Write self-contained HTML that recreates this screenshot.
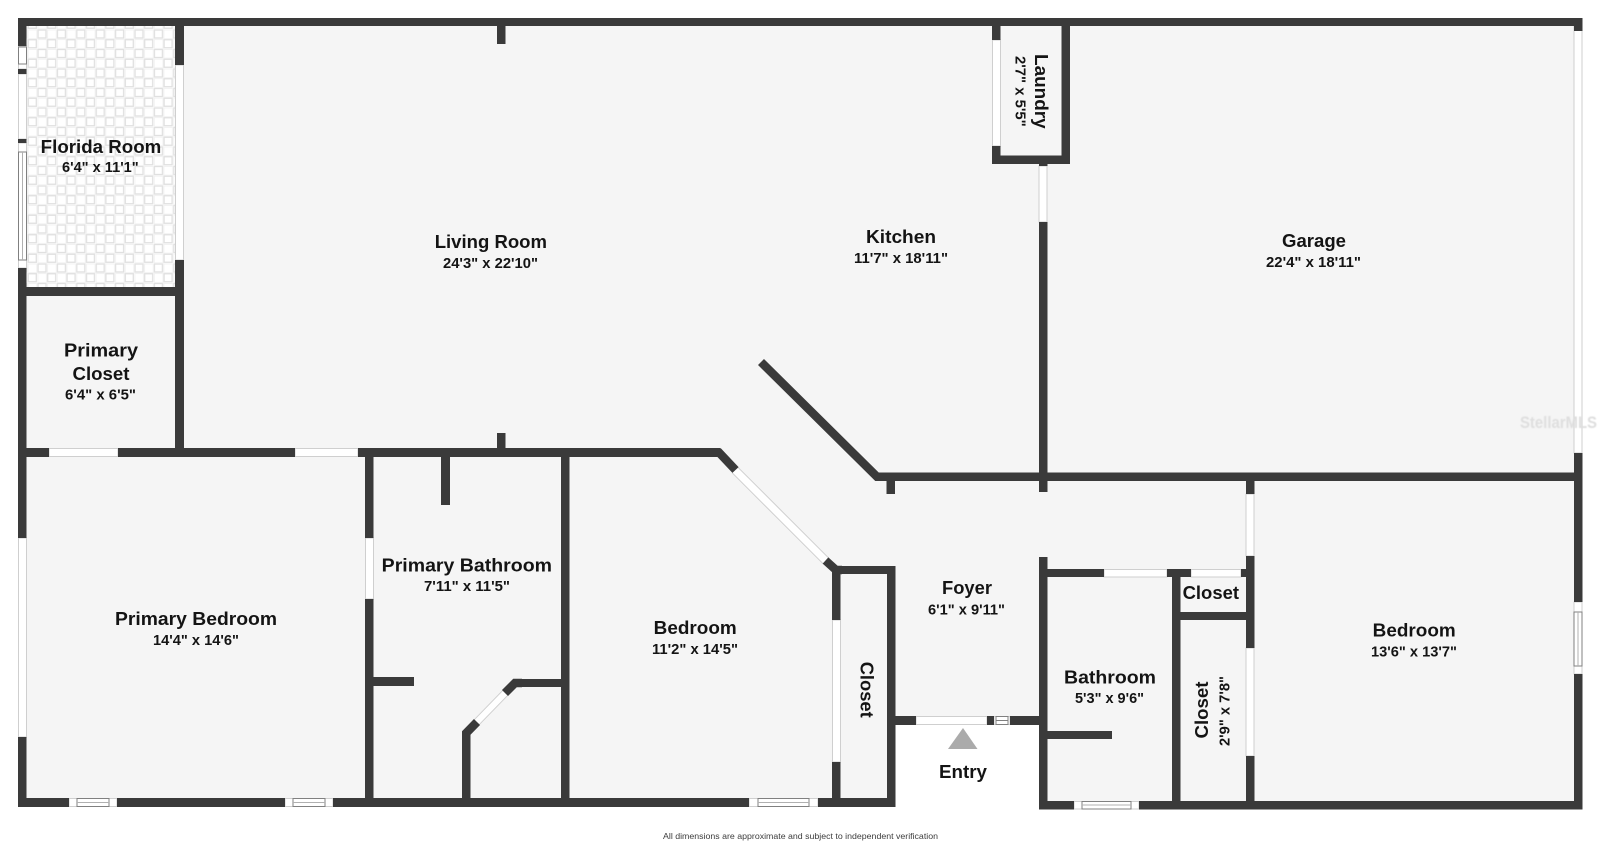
<!DOCTYPE html>
<html lang="en">
<head>
<meta charset="utf-8">
<title>Floor plan</title>
<style>
html,body{margin:0;padding:0;background:#fff;width:1600px;height:845px;overflow:hidden}
svg{display:block}
text{font-family:"Liberation Sans",sans-serif;font-weight:700;fill:#141414;text-anchor:start}
.t{font-size:18.5px}
.d{font-size:15px}
.o{fill:#fff;stroke:#cfcfcf;stroke-width:1}
.w{fill:#3a3a3a}
.i{fill:#fff;stroke:#808080;stroke-width:1}
</style>
</head>
<body>
<svg width="1600" height="845" viewBox="0 0 1600 845" xmlns="http://www.w3.org/2000/svg">
<defs>
<pattern id="tile" patternUnits="userSpaceOnUse" width="19.4" height="19.5" patternTransform="translate(37.5 29.5)">
<rect width="19.4" height="19.5" fill="#fff"/>
<rect x="10" y="0.4" width="8.8" height="8.8" fill="none" stroke="#f1f1f1" stroke-width="1"/>
<rect x="0.3" y="10.1" width="8.8" height="8.8" fill="none" stroke="#f1f1f1" stroke-width="1"/>
<rect x="0.5" y="0.5" width="8" height="8" fill="none" stroke="#e0e0e0" stroke-width="1.3"/>
<rect x="10.2" y="10.25" width="8" height="8" fill="none" stroke="#e0e0e0" stroke-width="1.3"/>
</pattern>
</defs>

<!-- floors -->
<polygon points="18,18 1582,18 1582,809 1039,809 1039,725 895,725 895,807 18,807" fill="#f5f5f5"/>
<rect x="26" y="26" width="149" height="261" fill="url(#tile)"/>

<!-- openings: doors -->
<rect class="o" x="175.5" y="65" width="8" height="195"/>
<rect class="o" x="18.5" y="74" width="8" height="65"/>
<rect class="o" x="18.5" y="538" width="8" height="199"/>
<rect class="o" x="49" y="448.5" width="69" height="8"/>
<rect class="o" x="295" y="448.5" width="63" height="8"/>
<rect class="o" x="365.5" y="538" width="8" height="61"/>
<rect class="o" x="832.5" y="620" width="8" height="142"/>
<rect class="o" x="916" y="716.5" width="71" height="8"/>
<rect class="o" x="1104" y="569.5" width="63" height="7.5"/>
<rect class="o" x="1191" y="569.5" width="50" height="7.5"/>
<rect class="o" x="1246" y="494" width="8" height="62"/>
<rect class="o" x="1246" y="648" width="8" height="108"/>
<rect class="o" x="992.5" y="40" width="8" height="106"/>
<rect class="o" x="1039" y="166" width="8" height="56"/>
<rect class="o" x="1574" y="26" width="8" height="427"/>
<line x1="735" y1="470" x2="826" y2="561" stroke="#cfcfcf" stroke-width="9"/>
<line x1="735" y1="470" x2="826" y2="561" stroke="#fff" stroke-width="7"/>
<line x1="510" y1="688" x2="474" y2="725" stroke="#cfcfcf" stroke-width="8"/>
<line x1="510" y1="688" x2="474" y2="725" stroke="#fff" stroke-width="6"/>

<!-- openings: windows -->
<rect class="o" x="18.5" y="46" width="8" height="23"/>
<rect class="i" x="18.5" y="47" width="8" height="17"/>
<rect class="o" x="18.5" y="143" width="8" height="125"/>
<rect class="i" x="18.5" y="152" width="8" height="108"/>
<line x1="22.5" y1="152" x2="22.5" y2="260" stroke="#b0b0b0"/>
<rect class="o" x="69" y="798.5" width="48" height="8"/>
<rect class="i" x="77" y="798.5" width="32" height="8"/>
<line x1="77" y1="802.5" x2="109" y2="802.5" stroke="#b0b0b0"/>
<rect class="o" x="285" y="798.5" width="48" height="8"/>
<rect class="i" x="293" y="798.5" width="32" height="8"/>
<line x1="293" y1="802.5" x2="325" y2="802.5" stroke="#b0b0b0"/>
<rect class="o" x="749" y="798.5" width="69" height="8"/>
<rect class="i" x="758" y="798.5" width="51" height="8"/>
<line x1="758" y1="802.5" x2="809" y2="802.5" stroke="#b0b0b0"/>
<rect class="o" x="994" y="716.5" width="16" height="8"/>
<rect class="i" x="996" y="716.5" width="12" height="8"/>
<line x1="996" y1="720.5" x2="1008" y2="720.5" stroke="#808080"/>
<rect class="o" x="1074" y="801.5" width="65" height="7.5"/>
<rect class="i" x="1082" y="801.5" width="49" height="7.5"/>
<line x1="1082" y1="805" x2="1131" y2="805" stroke="#b0b0b0"/>
<rect class="o" x="1574" y="602" width="8" height="72"/>
<rect class="i" x="1574" y="612" width="8" height="54"/>
<line x1="1578" y1="612" x2="1578" y2="666" stroke="#b0b0b0"/>

<!-- walls -->
<g class="w">
<rect class="w" x="18" y="18" width="1564.5" height="8"/>
<rect class="w" x="1574" y="18" width="8.5" height="13"/>
<rect class="w" x="18" y="18" width="8.5" height="28"/>
<rect class="w" x="18" y="69" width="8.5" height="5"/>
<rect class="w" x="18" y="139" width="8.5" height="4"/>
<rect class="w" x="18" y="268" width="8.5" height="270"/>
<rect class="w" x="18" y="737" width="8.5" height="70"/>
<rect class="w" x="18" y="798" width="51" height="9"/>
<rect class="w" x="117" y="798" width="168" height="9"/>
<rect class="w" x="333" y="798" width="416" height="9"/>
<rect class="w" x="818" y="798" width="77" height="9"/>
<rect class="w" x="1039" y="801" width="35" height="8.5"/>
<rect class="w" x="1139" y="801" width="443.5" height="8.5"/>
<rect class="w" x="1574" y="453" width="8.5" height="149"/>
<rect class="w" x="1574" y="674" width="8.5" height="135"/>
<rect class="w" x="175" y="18" width="9" height="47"/>
<rect class="w" x="175" y="260" width="9" height="197"/>
<rect class="w" x="18" y="287" width="166" height="9"/>
<rect class="w" x="497" y="26" width="8.5" height="18"/>
<rect class="w" x="18" y="448" width="31" height="9"/>
<rect class="w" x="118" y="448" width="177" height="9"/>
<rect class="w" x="358" y="448" width="362" height="9"/>
<rect class="w" x="497" y="433" width="8.5" height="15"/>
<rect class="w" x="365" y="457" width="8.5" height="81"/>
<rect class="w" x="365" y="599" width="8.5" height="199"/>
<rect class="w" x="373" y="677" width="41" height="9"/>
<rect class="w" x="441" y="457" width="9" height="48"/>
<rect class="w" x="561" y="457" width="8.5" height="341"/>
<rect class="w" x="516" y="679" width="45" height="8"/>
<rect class="w" x="462" y="733" width="8.5" height="65"/>
<rect class="w" x="832" y="566" width="63" height="8"/>
<rect class="w" x="832" y="566" width="8.5" height="54"/>
<rect class="w" x="832" y="762" width="8.5" height="36"/>
<rect class="w" x="887" y="566" width="8.5" height="241"/>
<rect class="w" x="895" y="716" width="21" height="9"/>
<rect class="w" x="987" y="716" width="7" height="9"/>
<rect class="w" x="1010" y="716" width="29" height="9"/>
<rect class="w" x="1039" y="557" width="8.5" height="252"/>
<rect class="w" x="1047" y="569" width="57" height="8"/>
<rect class="w" x="1167" y="569" width="24" height="8"/>
<rect class="w" x="1241" y="569" width="5" height="8"/>
<rect class="w" x="1172" y="569" width="8.5" height="232"/>
<rect class="w" x="1172" y="612" width="74" height="8"/>
<rect class="w" x="1047" y="731" width="65" height="8"/>
<rect class="w" x="1246" y="556" width="8.5" height="92"/>
<rect class="w" x="1246" y="756" width="8.5" height="45"/>
<rect class="w" x="877" y="472.5" width="705" height="8.5"/>
<rect class="w" x="1039" y="222" width="8.5" height="270"/>
<rect class="w" x="886.5" y="481" width="8.5" height="13"/>
<rect class="w" x="1246" y="481" width="8.5" height="13"/>
<rect class="w" x="992" y="18" width="8.5" height="22"/>
<rect class="w" x="992" y="146" width="8.5" height="18"/>
<rect class="w" x="1061.5" y="18" width="8.5" height="146"/>
<rect class="w" x="992" y="155.5" width="78" height="8.5"/>
<rect class="w" x="1039" y="164" width="8.5" height="2"/>
</g>
<!-- diagonal walls -->
<g stroke="#3a3a3a" stroke-width="8.5" fill="none" stroke-linejoin="miter">
<polyline points="761,362 877,476.75 882,476.75"/>
<polyline points="715,452.5 719,452.5 735.5,470"/>
<polyline points="825.5,560.5 836,570 842,570"/>
<polyline points="522,683 515,683 505,693"/>
<polyline points="466.25,742 466.25,733 477,722"/>
</g>

<!-- entry triangle -->
<polygon points="963,728 948,749 977.5,749" fill="#ababab"/>

<!-- labels -->
<text class="t" x="40.7" y="153" textLength="120.6" lengthAdjust="spacingAndGlyphs">Florida Room</text>
<text class="d" x="62" y="172" textLength="76.7" lengthAdjust="spacingAndGlyphs">6'4" x 11'1"</text>

<text class="t" x="434.7" y="248" textLength="112.3" lengthAdjust="spacingAndGlyphs">Living Room</text>
<text class="d" x="443" y="268" textLength="95" lengthAdjust="spacingAndGlyphs">24'3" x 22'10"</text>

<text class="t" x="866" y="243" textLength="70" lengthAdjust="spacingAndGlyphs">Kitchen</text>
<text class="d" x="854" y="263" textLength="94" lengthAdjust="spacingAndGlyphs">11'7" x 18'11"</text>

<text class="t" x="1282" y="247" textLength="64" lengthAdjust="spacingAndGlyphs">Garage</text>
<text class="d" x="1266" y="267" textLength="95" lengthAdjust="spacingAndGlyphs">22'4" x 18'11"</text>

<text class="t" x="64" y="356.5" textLength="74" lengthAdjust="spacingAndGlyphs">Primary</text>
<text class="t" x="72.5" y="380" textLength="57" lengthAdjust="spacingAndGlyphs">Closet</text>
<text class="d" x="65" y="399.5" textLength="71" lengthAdjust="spacingAndGlyphs">6'4" x 6'5"</text>

<text class="t" x="115" y="625" textLength="162" lengthAdjust="spacingAndGlyphs">Primary Bedroom</text>
<text class="d" x="153" y="645" textLength="86" lengthAdjust="spacingAndGlyphs">14'4" x 14'6"</text>

<text class="t" x="381.7" y="571.7" textLength="170.3" lengthAdjust="spacingAndGlyphs">Primary Bathroom</text>
<text class="d" x="424" y="591" textLength="86" lengthAdjust="spacingAndGlyphs">7'11" x 11'5"</text>

<text class="t" x="653.7" y="634" textLength="83" lengthAdjust="spacingAndGlyphs">Bedroom</text>
<text class="d" x="652" y="654" textLength="86" lengthAdjust="spacingAndGlyphs">11'2" x 14'5"</text>

<text class="t" x="1372.7" y="636.7" textLength="83" lengthAdjust="spacingAndGlyphs">Bedroom</text>
<text class="d" x="1371" y="656.7" textLength="86" lengthAdjust="spacingAndGlyphs">13'6" x 13'7"</text>

<text class="t" x="942" y="594" textLength="50" lengthAdjust="spacingAndGlyphs">Foyer</text>
<text class="d" x="928" y="614.7" textLength="77" lengthAdjust="spacingAndGlyphs">6'1" x 9'11"</text>

<text class="t" x="1064" y="683.7" textLength="92" lengthAdjust="spacingAndGlyphs">Bathroom</text>
<text class="d" x="1075" y="703" textLength="69" lengthAdjust="spacingAndGlyphs">5'3" x 9'6"</text>

<text class="t" x="939" y="778" textLength="48" lengthAdjust="spacingAndGlyphs">Entry</text>

<text class="t" x="1182.6" y="599" textLength="56.4" lengthAdjust="spacingAndGlyphs">Closet</text>

<text class="t" transform="translate(860.5 661.7) rotate(90)" textLength="56" lengthAdjust="spacingAndGlyphs">Closet</text>

<text class="t" transform="translate(1208 738.5) rotate(-90)" textLength="57" lengthAdjust="spacingAndGlyphs">Closet</text>
<text class="d" transform="translate(1229.5 746) rotate(-90)" textLength="70" lengthAdjust="spacingAndGlyphs">2'9" x 7'8"</text>

<text class="t" transform="translate(1035 54) rotate(90)" textLength="74.7" lengthAdjust="spacingAndGlyphs">Laundry</text>
<text class="d" transform="translate(1015.7 56) rotate(90)" textLength="70.7" lengthAdjust="spacingAndGlyphs">2'7" x 5'5"</text>

<text x="663" y="839" textLength="275" lengthAdjust="spacingAndGlyphs" style="font-size:8.6px;font-weight:400;fill:#3c3c3c">All dimensions are approximate and subject to independent verification</text>

<text x="1520" y="428" textLength="77" lengthAdjust="spacingAndGlyphs" style="font-size:17px;font-weight:700;fill:#dedede;filter:blur(.6px)">StellarMLS</text>
</svg>
</body>
</html>
